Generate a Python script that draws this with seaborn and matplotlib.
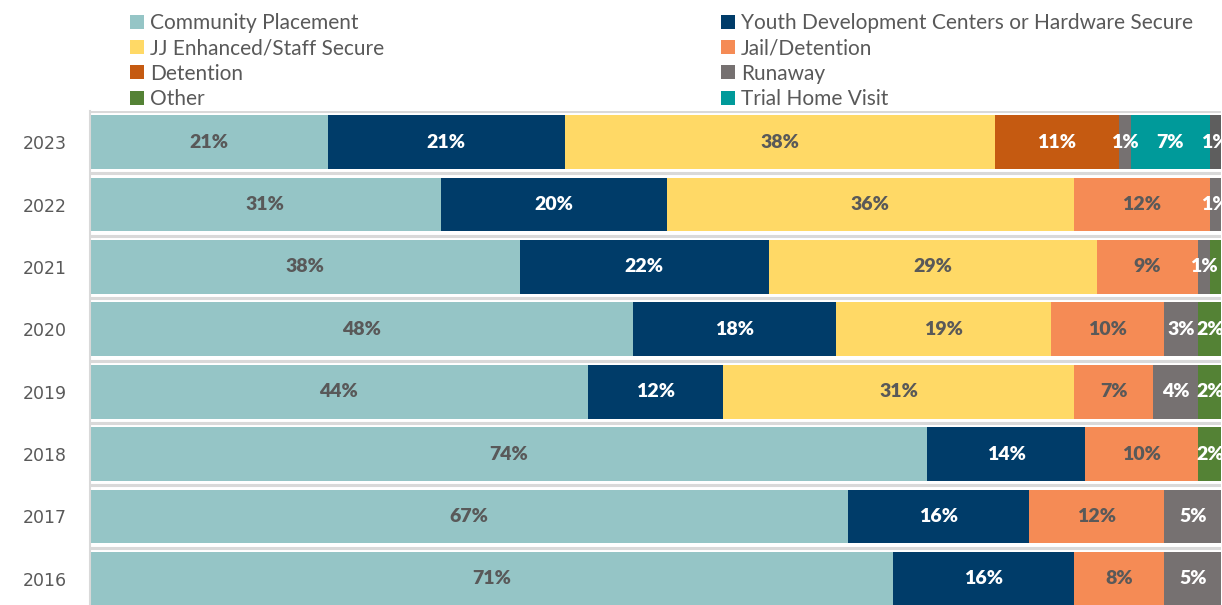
import matplotlib
matplotlib.use("Agg")
import matplotlib.pyplot as plt
from matplotlib.patches import Patch
import numpy as np
import seaborn as sns

# Placement outcomes by year (percent of youth)
years = ["2023", "2022", "2021", "2020", "2019", "2018", "2017", "2016"]
community = [21, 31, 38, 48, 44, 74, 67, 71]
youth_dev = [21, 20, 22, 18, 12, 14, 16, 16]
jj_enhanced = [38, 36, 29, 19, 31, 0, 0, 0]
jail = [0, 12, 9, 10, 7, 10, 12, 8]
detention = [11, 0, 0, 0, 0, 0, 0, 0]
runaway = [1, 1, 1, 3, 4, 0, 5, 5]
other = [0, 0, 1, 2, 2, 2, 0, 0]
trial_home = [7, 0, 0, 0, 0, 0, 0, 0]
unspecified = [1, 0, 0, 0, 0, 0, 0, 0]

series_names = ["Community Placement", "Youth Development Centers or Hardware Secure",
                "JJ Enhanced/Staff Secure", "Jail/Detention", "Detention", "Runaway",
                "Other", "Trial Home Visit", "Unspecified"]
series_values = [community, youth_dev, jj_enhanced, jail, detention, runaway,
                 other, trial_home, unspecified]
series_colors = ["#95C5C6", "#003C69", "#FFD966", "#F58B55", "#C55A11", "#767171",
                 "#548235", "#009A9A", "#5E5E5E"]
label_dark = [True, False, True, True, False, False, False, False, False]

TEXT_GREY = "#595959"
GRID_GREY = "#D9D9D9"

sns.set_style("white")
plt.rcParams["font.family"] = ["Lato", "DejaVu Sans"]

W, H = 1222, 605
fig = plt.figure(figsize=(W / 100, H / 100), dpi=100)
ax = fig.add_axes([90 / W, (H - 610) / H, 1131 / W, (610 - 111) / H])

vals = np.array(series_values, dtype=float)
cums = np.cumsum(vals, axis=0)

# Stacked bars: draw cumulative totals from the outermost series inward
for i in reversed(range(len(series_names))):
    sns.barplot(x=cums[i], y=years, order=years, orient="h", color=series_colors[i],
                saturation=1, width=0.86, linewidth=0, edgecolor="none", ax=ax,
                zorder=2)

ax.set_xlim(0, 100)
ax.set_ylim(len(years) - 0.5, -0.5)

# Light separators between the year rows
for k in range(len(years) + 1):
    ax.axhline(k - 0.5, color=GRID_GREY, lw=2.2, zorder=1)

for s in ["top", "right", "bottom"]:
    ax.spines[s].set_visible(False)
ax.spines["left"].set_color(GRID_GREY)
ax.spines["left"].set_linewidth(1.5)

ax.set_xticks([])
ax.set_xlabel("")
ax.set_ylabel("")
ax.tick_params(axis="y", length=0, pad=17, labelcolor=TEXT_GREY)
for lbl in ax.get_yticklabels():
    lbl.set_fontfamily(["DejaVu Sans"])
    lbl.set_fontsize(12.5)

# Percent labels centred on each segment
for r in range(len(years)):
    last_c = -100
    for i in range(len(series_names)):
        v = vals[i, r]
        if v <= 0:
            continue
        c = cums[i, r] - v / 2
        if c - last_c < 2:
            continue
        last_c = c
        ax.text(c, r, f"{int(v)}%", ha="center", va="center", fontsize=14,
                fontweight="heavy", color=TEXT_GREY if label_dark[i] else "white",
                zorder=5)

# Two-column legend laid out row by row
def make_legend(idx, x):
    handles = [Patch(facecolor=series_colors[i], edgecolor="none") for i in idx]
    labels = [series_names[i] for i in idx]
    leg = fig.legend(handles, labels, loc="upper left", bbox_to_anchor=(x, 0.978),
                     bbox_transform=fig.transFigure, frameon=False, fontsize=15,
                     handlelength=0.65, handleheight=0.65, handletextpad=0.3,
                     labelspacing=0.25, borderpad=0, borderaxespad=0)
    for t in leg.get_texts():
        t.set_color(TEXT_GREY)
    return leg

make_legend([0, 2, 4, 6], 130 / W)
make_legend([1, 3, 5, 7], 721 / W)

fig.savefig("out.png", dpi=100)
